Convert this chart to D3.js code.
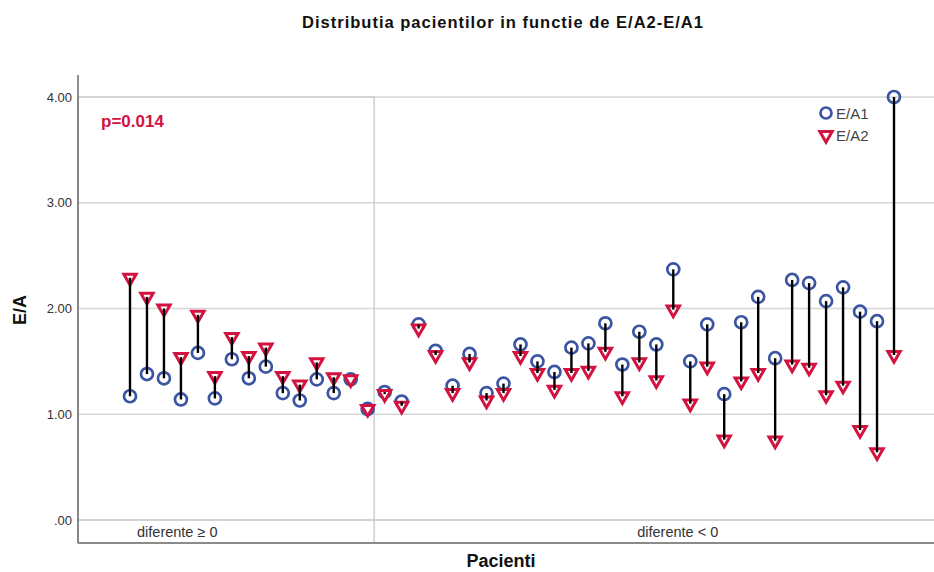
<!DOCTYPE html>
<html>
<head>
<meta charset="utf-8">
<script src="https://cdn.jsdelivr.net/npm/d3@7"></script>
<style>
  html, body { margin: 0; padding: 0; background: #fff; }
  svg { display: block; font-family: "Liberation Sans", Arial, sans-serif; }
</style>
</head>
<body>
<svg id="chart" width="934" height="572"></svg>
<script>
// E/A ratio per patient, first and second measurement
const ea1 = [1.17, 1.38, 1.34, 1.14, 1.58, 1.15, 1.52, 1.34, 1.45, 1.20, 1.13, 1.33, 1.20, 1.33, 1.05,
             1.21, 1.12, 1.85, 1.60, 1.27, 1.57, 1.20, 1.29, 1.66, 1.50, 1.40, 1.63, 1.67, 1.86, 1.47,
             1.78, 1.66, 2.37, 1.50, 1.85, 1.19, 1.87, 2.11, 1.53, 2.27, 2.24, 2.07, 2.20, 1.97, 1.88, 4.00];
const ea2 = [2.29, 2.11, 2.00, 1.54, 1.94, 1.36, 1.73, 1.55, 1.63, 1.36, 1.28, 1.49, 1.35, 1.33, 1.05,
             1.19, 1.08, 1.81, 1.56, 1.20, 1.49, 1.13, 1.20, 1.55, 1.39, 1.23, 1.39, 1.41, 1.59, 1.17,
             1.49, 1.32, 1.99, 1.10, 1.45, 0.76, 1.31, 1.39, 0.75, 1.47, 1.44, 1.18, 1.27, 0.85, 0.64, 1.56];

// patient groups along the x axis
const groupLabels = ["diferente \u2265 0", "diferente < 0"];
const groupSizes = [15, 31];

const yTicks = [0, 1, 2, 3, 4];
const seriesNames = ["E/A1", "E/A2"];
const pText = "p=0.014";

const blue = "#3b55a2";
const red = "#d4123f";

const svg = d3.select("#chart");
const plot = { left: 78, right: 934, top: 75, bottom: 543 };

const patients = ea1.map((_, i) => i);
const x = d3.scalePoint().domain(patients).range([plot.left + 52, plot.right - 40]);
const y = d3.scaleLinear().domain([0, 4]).range([520, 97]);

// gridlines
svg.append("g").selectAll("line").data(yTicks).join("line")
  .attr("x1", plot.left).attr("x2", plot.right)
  .attr("y1", d => y(d)).attr("y2", d => y(d))
  .attr("stroke", d => d === 0 ? "#c4c4c4" : "#d6d6d6")
  .attr("stroke-width", 1.5);

// panel for the first group
const split = (x(groupSizes[0] - 1) + x(groupSizes[0])) / 2 - 2;
svg.append("rect")
  .attr("x", plot.left).attr("y", y(4))
  .attr("width", split - plot.left).attr("height", plot.bottom - y(4))
  .attr("fill", "none").attr("stroke", "#cfcfcf").attr("stroke-width", 1.5);

// group labels in the strip under zero
const labelX = [plot.left + 59, split + 263];
svg.append("g").selectAll("text").data(groupLabels).join("text")
  .attr("x", (d, i) => labelX[i]).attr("y", 537)
  .attr("font-size", 14.5).attr("fill", "#333")
  .text(d => d);

// axes lines
svg.append("line")
  .attr("x1", plot.left).attr("x2", plot.left)
  .attr("y1", plot.top).attr("y2", plot.bottom)
  .attr("stroke", "#6a6a6a").attr("stroke-width", 1.5);
svg.append("line")
  .attr("x1", plot.left).attr("x2", plot.right)
  .attr("y1", plot.bottom).attr("y2", plot.bottom)
  .attr("stroke", "#8a8a8a").attr("stroke-width", 2);

// y axis tick labels
const yAxis = d3.axisLeft(y).tickValues(yTicks).tickSize(0).tickPadding(6)
  .tickFormat(d => d3.format(".2f")(d).replace(/^0/, ""));
svg.append("g").attr("transform", `translate(${plot.left},0)`).call(yAxis)
  .call(g => g.select(".domain").remove())
  .call(g => g.selectAll("text").attr("font-size", 13).attr("fill", "#333")
    .attr("font-family", "Liberation Sans, Arial, sans-serif"));

// markers
const tri = d3.symbol().type(d3.symbolTriangle).size(66);

svg.append("g").selectAll("circle").data(patients).join("circle")
  .attr("cx", d => x(d)).attr("cy", d => y(ea1[d])).attr("r", 6)
  .attr("fill", "none").attr("stroke", blue).attr("stroke-width", 2.7);

svg.append("g").selectAll("path").data(patients).join("path")
  .attr("d", tri)
  .attr("transform", d => `translate(${x(d)},${y(ea2[d])}) rotate(180)`)
  .attr("fill", "#fff").attr("stroke", red).attr("stroke-width", 3)
  .attr("stroke-linejoin", "miter");

// connectors between the two measurements
svg.append("g").selectAll("line").data(patients).join("line")
  .attr("x1", d => x(d)).attr("x2", d => x(d))
  .attr("y1", d => y(ea1[d])).attr("y2", d => y(ea2[d]))
  .attr("stroke", "#000").attr("stroke-width", 2.4);

// legend
const lg = svg.append("g");
lg.append("circle").attr("cx", 826).attr("cy", 113).attr("r", 5.5)
  .attr("fill", "none").attr("stroke", blue).attr("stroke-width", 2.7);
lg.append("path").attr("d", tri).attr("transform", "translate(826,135) rotate(180)")
  .attr("fill", "#fff").attr("stroke", red).attr("stroke-width", 3);
lg.selectAll("text").data(seriesNames).join("text")
  .attr("x", 836).attr("y", (d, i) => 119 + i * 22)
  .attr("font-size", 15).attr("fill", "#444").text(d => d);

// p value
svg.append("text").attr("x", 101).attr("y", 127)
  .attr("font-size", 17).attr("font-weight", "bold").attr("fill", red).text(pText);

// titles
svg.append("text").attr("x", 503).attr("y", 28).attr("text-anchor", "middle")
  .attr("font-size", 16.5).attr("font-weight", "bold").attr("letter-spacing", 1)
  .attr("fill", "#111").text("Distributia pacientilor in functie de E/A2-E/A1");

svg.append("text").attr("transform", "translate(26,310) rotate(-90)")
  .attr("text-anchor", "middle").attr("font-size", 18).attr("font-weight", "bold")
  .attr("fill", "#111").text("E/A");

svg.append("text").attr("x", 501).attr("y", 567).attr("text-anchor", "middle")
  .attr("font-size", 18).attr("font-weight", "bold").attr("fill", "#111").text("Pacienti");
</script>
</body>
</html>
